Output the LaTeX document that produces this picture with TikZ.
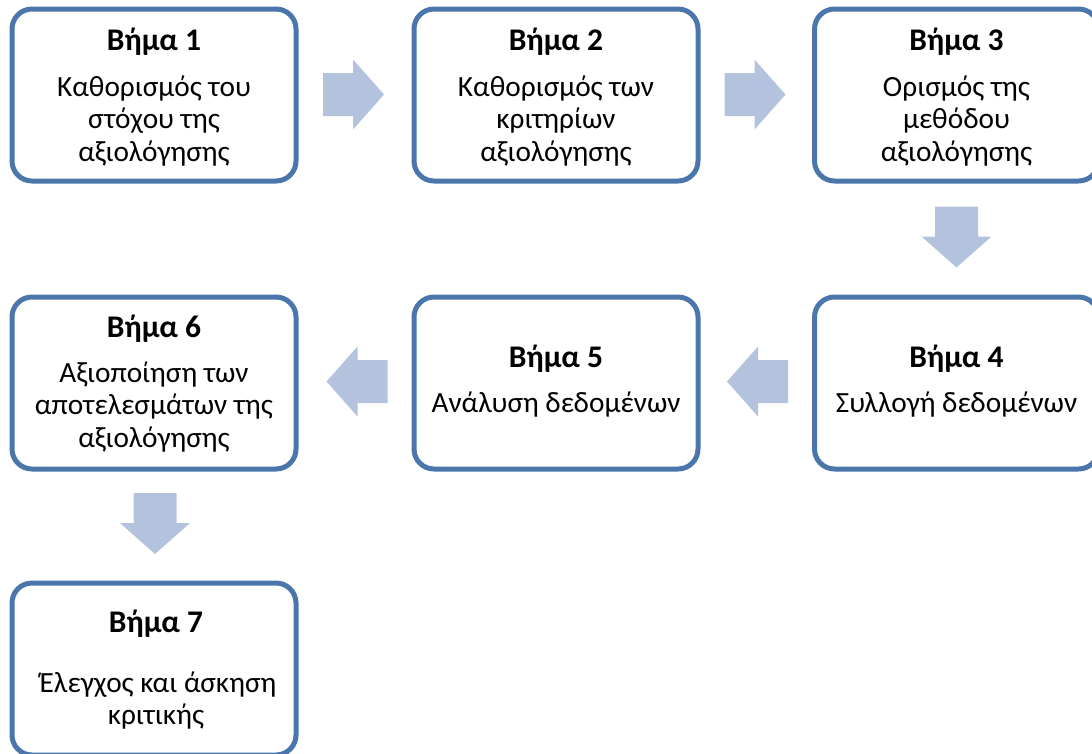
\documentclass[tikz,border=0pt]{standalone}
\usepackage{fontspec}
\setmainfont{Carlito}
\definecolor{boxline}{HTML}{4A76AC}
\definecolor{arrowfill}{HTML}{B3C3DE}
\newcommand{\steptitle}[1]{{\fontsize{31.5}{32.5}\selectfont\bfseries #1}}

\tikzset{
  stepbox/.style={draw=boxline, line width=5pt, rounded corners=20pt, fill=white,
    minimum width=284pt, minimum height=172pt, inner sep=0pt},
  steptext/.style={anchor=base, inner sep=0pt, font=\fontsize{29.3}{32.5}\selectfont},
  % broad block arrow, tail centred at the origin, pointing along +x
  blockarrow/.pic={
    \fill[arrowfill] (0,-21.5) -- (30,-21.5) -- (30,-35) -- (61,0)
      -- (30,35) -- (30,21.5) -- (0,21.5) -- cycle;
  }
}

\begin{document}
\begin{tikzpicture}[x=1pt, y=-1pt]
  \useasboundingbox (0,0) rectangle (1092,753);
  \clip (0,0) rectangle (1092,753);

  % step boxes
  \node[stepbox] (b1) at (154,95) {};
  \node[stepbox] (b2) at (556,95) {};
  \node[stepbox] (b3) at (956.5,95) {};
  \node[stepbox] (b4) at (956.5,383) {};
  \node[stepbox] (b5) at (556,383) {};
  \node[stepbox] (b6) at (154,383) {};
  \node[stepbox] (b7) at (154,669) {};

  % box texts (anchored at the baseline of the title)
  \node[steptext] (t1) at (154,50) {\begin{tabular}[t]{@{}c@{}}\steptitle{Βήμα 1}\\[13.5pt]
    Καθορισμός του\\ στόχου της\\ αξιολόγησης\end{tabular}};
  \node[steptext] (t2) at (556,50) {\begin{tabular}[t]{@{}c@{}}\steptitle{Βήμα 2}\\[13.5pt]
    Καθορισμός των\\ κριτηρίων\\ αξιολόγησης\end{tabular}};
  \node[steptext] (t3) at (956.5,50) {\begin{tabular}[t]{@{}c@{}}\steptitle{Βήμα 3}\\[13.5pt]
    Ορισμός της\\ μεθόδου\\ αξιολόγησης\end{tabular}};
  \node[steptext] (t4) at (956.5,367) {\begin{tabular}[t]{@{}c@{}}\steptitle{Βήμα 4}\\[12.5pt]
    Συλλογή δεδομένων\end{tabular}};
  \node[steptext] (t5) at (556,367) {\begin{tabular}[t]{@{}c@{}}\steptitle{Βήμα 5}\\[12.5pt]
    Ανάλυση δεδομένων\end{tabular}};
  \node[steptext] (t6) at (154,337) {\begin{tabular}[t]{@{}c@{}}\steptitle{Βήμα 6}\\[12.5pt]
    Αξιοποίηση των\\ αποτελεσμάτων της\\ αξιολόγησης\end{tabular}};
  \node[steptext] (t7) at (156,632) {\begin{tabular}[t]{@{}c@{}}\steptitle{Βήμα 7}\\[27.5pt]
    \hspace*{4pt}Έλεγχος και άσκηση\\ κριτικής\end{tabular}};

  % block arrows between the steps
  \pic at (323,94.5) {blockarrow};
  \pic at (724.5,94.5) {blockarrow};
  \pic[rotate=-90] at (956.5,206.5) {blockarrow};
  \pic[rotate=180] at (788,381.5) {blockarrow};
  \pic[rotate=180] at (387.5,381.5) {blockarrow};
  \pic[rotate=-90] at (155,493) {blockarrow};
\end{tikzpicture}
\end{document}
